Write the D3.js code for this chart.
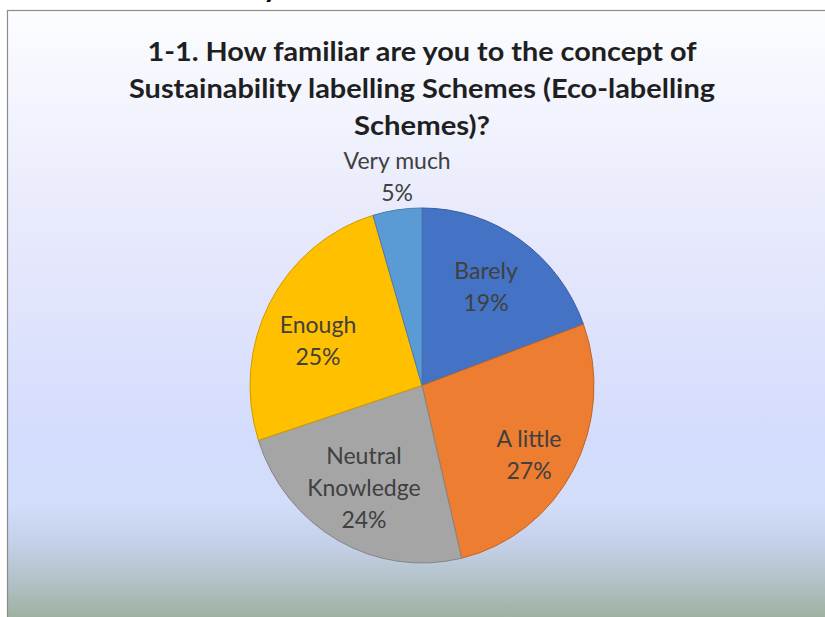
<!DOCTYPE html>
<html>
<head>
<meta charset="utf-8">
<script src="https://cdn.jsdelivr.net/npm/d3@7"></script>
<style>
  html, body { margin: 0; padding: 0; background: #ffffff; }
  svg { display: block; }
</style>
</head>
<body>
<svg id="chart" width="825" height="617"></svg>
<script>
// ---- data ----
const categories = ["Barely", "A little", "Neutral Knowledge", "Enough", "Very much"];
const labelLines = [["Barely"], ["A little"], ["Neutral", "Knowledge"], ["Enough"], ["Very much"]];
const values = [19.4, 26.9, 23.7, 25.4, 4.6];
const colors = ["#4472C4", "#ED7D31", "#A5A5A5", "#FFC000", "#5B9BD5"];
const titleLines = ["1-1. How familiar are you to the concept of",
                    "Sustainability labelling Schemes (Eco-labelling",
                    "Schemes)?"];

const svg = d3.select("#chart");
const W = 825, H = 617;

// background gradient
const defs = svg.append("defs");
const grad = defs.append("linearGradient").attr("id", "bg").attr("x1", 0).attr("y1", 0).attr("x2", 0).attr("y2", 1);
[[0, "#fcfdff"], [0.3, "#eaecfc"], [0.5, "#dfe3fc"], [0.7, "#d3dcfc"], [0.8, "#d2ddfb"],
 [0.87, "#c3cfe6"], [0.93, "#b1c0c4"], [1, "#98ad95"]].forEach(([o, c]) =>
  grad.append("stop").attr("offset", o).attr("stop-color", c));

svg.append("rect").attr("x", 7.5).attr("y", 10.5).attr("width", W).attr("height", H)
  .attr("fill", "url(#bg)").attr("stroke", "#8a8a8a").attr("stroke-width", 1.2);

// cut-off text from the page above
svg.append("text").attr("x", 263).attr("y", -3).attr("font-family", "Lato, sans-serif")
  .attr("font-weight", "bold").attr("font-size", 30).attr("fill", "#000").text("y");

// title
const titleWidths = [549, 586, 136];
const title = svg.append("g");
titleLines.forEach((t, i) => {
  title.append("text")
    .attr("x", 422).attr("y", 61 + i * 37)
    .attr("text-anchor", "middle")
    .attr("font-family", "Lato, 'Open Sans', sans-serif")
    .attr("font-weight", "bold").attr("font-size", 27)
    .attr("fill", "#1f1f1f").text(t)
    .attr("textLength", titleWidths[i]).attr("lengthAdjust", "spacingAndGlyphs");
});

// pie
const cx = 422, cy = 385.5, r = 172, yScale = 1.032;
const pie = d3.pie().sort(null).value(d => d)(values);
const arc = d3.arc().innerRadius(0).outerRadius(r);

const pg = svg.append("g").attr("transform", `translate(${cx},${cy}) scale(1,${yScale})`);
pg.selectAll("path").data(pie).join("path")
  .attr("d", arc)
  .attr("fill", (d, i) => colors[i])
  .attr("stroke", (d, i) => d3.color(colors[i]).darker(0.6))
  .attr("stroke-width", 1)
  .attr("vector-effect", "non-scaling-stroke");

// labels (best-fit style placement: radius and small angular nudge per label)
const labelR = [115.7, 125.9, 114.2, 113, 204.5];
const labelNudgeDeg = [-1.3, 3.5, 1.2, -4.7, 1.3];
const lg = svg.append("g").attr("transform", `translate(${cx},${cy})`);
pie.forEach((d, i) => {
  const a = (d.startAngle + d.endAngle) / 2 + labelNudgeDeg[i] * Math.PI / 180;
  const x = Math.sin(a) * labelR[i];
  const y = -Math.cos(a) * labelR[i] * yScale;
  const lines = labelLines[i].concat([Math.round(values[i]) + "%"]);
  const lh = 32;
  const t = lg.append("text")
    .attr("text-anchor", "middle")
    .attr("font-family", "Lato, 'Open Sans', sans-serif")
    .attr("font-size", 23).attr("fill", "#404040");
  lines.forEach((l, j) => {
    t.append("tspan").attr("x", x)
      .attr("y", y + (j - (lines.length - 1) / 2) * lh)
      .attr("dominant-baseline", "central").text(l);
  });
});
</script>
</body>
</html>
